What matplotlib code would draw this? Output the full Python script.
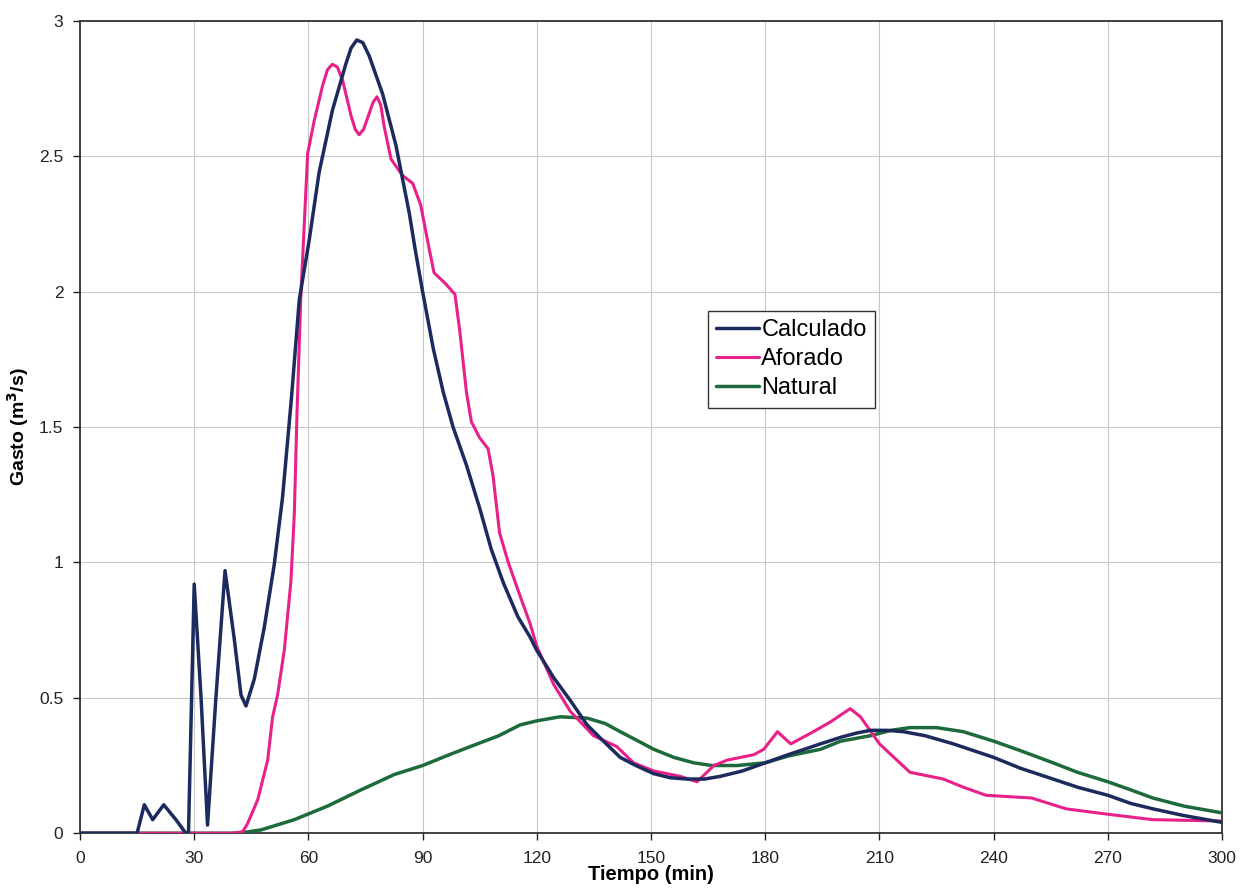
import numpy as np
import matplotlib.pyplot as plt
from matplotlib.ticker import FormatStrFormatter

plt.rcParams['font.family'] = ['Liberation Sans', 'DejaVu Sans']

# Calculado (modelo)
t_calc = [0, 15, 16.9, 19.1, 22, 25.2, 27.8, 28.5, 30, 31.8, 33.5, 35.7, 38.1, 40.5,
          42.3, 43.6, 45.8, 48.4, 51, 53.2, 55.5, 57.6, 60.2, 62.8, 66.3, 69.8, 71.2,
          72.7, 74.3, 76, 79.5, 83, 86.5, 88, 90, 92.8, 95.4, 98, 101.5, 105, 108,
          111.2, 115, 118.2, 120, 124.4, 128.8, 133.2, 137.5, 141.9, 146, 150.7, 155,
          159.5, 164, 168.2, 174, 180, 186, 194.5, 200, 204, 207.6, 212, 216.3, 222,
          229.4, 240, 247, 255.6, 262, 270, 276, 281.8, 290, 300]
q_calc = [0, 0, 0.105, 0.05, 0.105, 0.05, 0.0, 0.0, 0.92, 0.5, 0.03, 0.5, 0.97, 0.72,
          0.51, 0.47, 0.57, 0.76, 0.99, 1.24, 1.6, 1.97, 2.19, 2.44, 2.67, 2.84, 2.9,
          2.93, 2.92, 2.87, 2.73, 2.54, 2.29, 2.16, 2.0, 1.79, 1.63, 1.5, 1.36, 1.2, 1.05,
          0.925, 0.8, 0.725, 0.675, 0.575, 0.49, 0.4, 0.34, 0.28, 0.25, 0.22, 0.205,
          0.2, 0.2, 0.21, 0.23, 0.26, 0.29, 0.33, 0.355, 0.37, 0.38, 0.38, 0.375, 0.36,
          0.33, 0.28, 0.24, 0.2, 0.17, 0.14, 0.11, 0.09, 0.065, 0.04]

# Aforado (medido)
t_afo = [0, 40, 42.7, 44, 46.7, 49.3, 50.6, 51.9, 53.7, 55.4, 56.3, 57, 58, 59.8,
         61.5, 63.7, 65, 66.3, 67.6, 69, 71.2, 72.3, 73.3, 74.5, 76, 77, 78, 79,
         79.9, 81.7, 84.7, 87.4, 89.5, 91.7, 93, 96, 98.5, 99.8, 101.5, 102.8, 105,
         107.2, 108.5, 110.2, 112.5, 115, 118.2, 120, 124.4, 128.8, 134.9, 141, 145.4,
         150.7, 157.7, 162.1, 166.5, 170, 177, 179.6, 183.2, 186.7, 192, 197, 202.3,
         205, 210, 218, 226.8, 232, 238, 250, 259, 270, 281.8, 300]
q_afo = [0, 0, 0.005, 0.035, 0.124, 0.27, 0.43, 0.51, 0.68, 0.93, 1.18, 1.55, 1.98, 2.51,
         2.63, 2.76, 2.82, 2.84, 2.83, 2.78, 2.65, 2.6, 2.58, 2.6, 2.66, 2.7, 2.72, 2.69,
         2.61, 2.49, 2.43, 2.4, 2.32, 2.16, 2.07, 2.03, 1.99, 1.85, 1.63, 1.52, 1.46,
         1.42, 1.32, 1.11, 1.0, 0.9, 0.775, 0.69, 0.55, 0.45, 0.36, 0.32, 0.26,
         0.23, 0.21, 0.19, 0.25, 0.27, 0.29, 0.31, 0.375, 0.33, 0.37, 0.41, 0.46,
         0.43, 0.33, 0.225, 0.2, 0.17, 0.14, 0.13, 0.09, 0.07, 0.05, 0.045]

# Natural
t_nat = [0, 40, 43, 47.5, 56.3, 65, 73.8, 82.6, 90, 97, 105.3, 110, 115.6, 120, 126.1,
         133.2, 138, 141.9, 146, 150.7, 156, 161.2, 166, 172.6, 180, 186, 194.5, 199.8,
         207.6, 213, 218, 225, 232, 240, 247, 255.6, 262, 270, 276, 281.8, 290, 300]
q_nat = [0, 0, 0.003, 0.012, 0.05, 0.1, 0.16, 0.217, 0.25, 0.29, 0.335, 0.36, 0.4, 0.415,
         0.43, 0.425, 0.405, 0.375, 0.345, 0.31, 0.28, 0.26, 0.25, 0.25, 0.26, 0.285,
         0.31, 0.34, 0.36, 0.38, 0.39, 0.39, 0.375, 0.34, 0.305, 0.26, 0.225, 0.19,
         0.16, 0.13, 0.1, 0.075]

fig = plt.figure(figsize=(12.42, 8.94), dpi=100)
ax = fig.add_axes([0.0644, 0.068, 0.9196, 0.9085])

kw = dict(solid_joinstyle='round', solid_capstyle='round')
ax.plot(t_nat, q_nat, color='#1d6b3c', lw=2.5, label='Natural', zorder=3, **kw)
ax.plot(t_afo, q_afo, color='#e8208a', lw=2.2, label='Aforado', zorder=4, **kw)
ax.plot(t_calc, q_calc, color='#1c2a5e', lw=2.5, label='Calculado', zorder=5, **kw)

ax.set_xlim(0, 300)
ax.set_ylim(0, 3)
ax.set_xticks(np.arange(0, 301, 30))
ax.set_yticks(np.arange(0, 3.01, 0.5))
ax.yaxis.set_major_formatter(FormatStrFormatter('%g'))
ax.grid(True, color='#c8c8c8', lw=0.8)
ax.set_axisbelow(True)
ax.tick_params(direction='out', length=5, width=1, labelsize=12.5, colors='#222222')
ax.tick_params(axis='x', pad=8)
ax.tick_params(axis='y', pad=7)
for s in ax.spines.values():
    s.set_color('#333333')
    s.set_linewidth(1.3)

ax.set_xlabel('Tiempo (min)', fontsize=14.5, fontweight='bold', labelpad=-1)
ax.set_ylabel('Gasto (m$^\\mathbf{3}$/s)', fontsize=14, fontweight='bold', labelpad=6)

h, l = ax.get_legend_handles_labels()
order = [2, 1, 0]
leg = ax.legend([h[i] for i in order], [l[i] for i in order],
                loc='upper left', bbox_to_anchor=(0.55, 0.643), fontsize=17,
                fancybox=False, edgecolor='#333333', framealpha=1,
                handlelength=1.8, handletextpad=0.1, borderpad=0.35,
                labelspacing=0.3, borderaxespad=0)
leg.get_frame().set_linewidth(1.0)

fig.savefig('out.png', dpi=100)
